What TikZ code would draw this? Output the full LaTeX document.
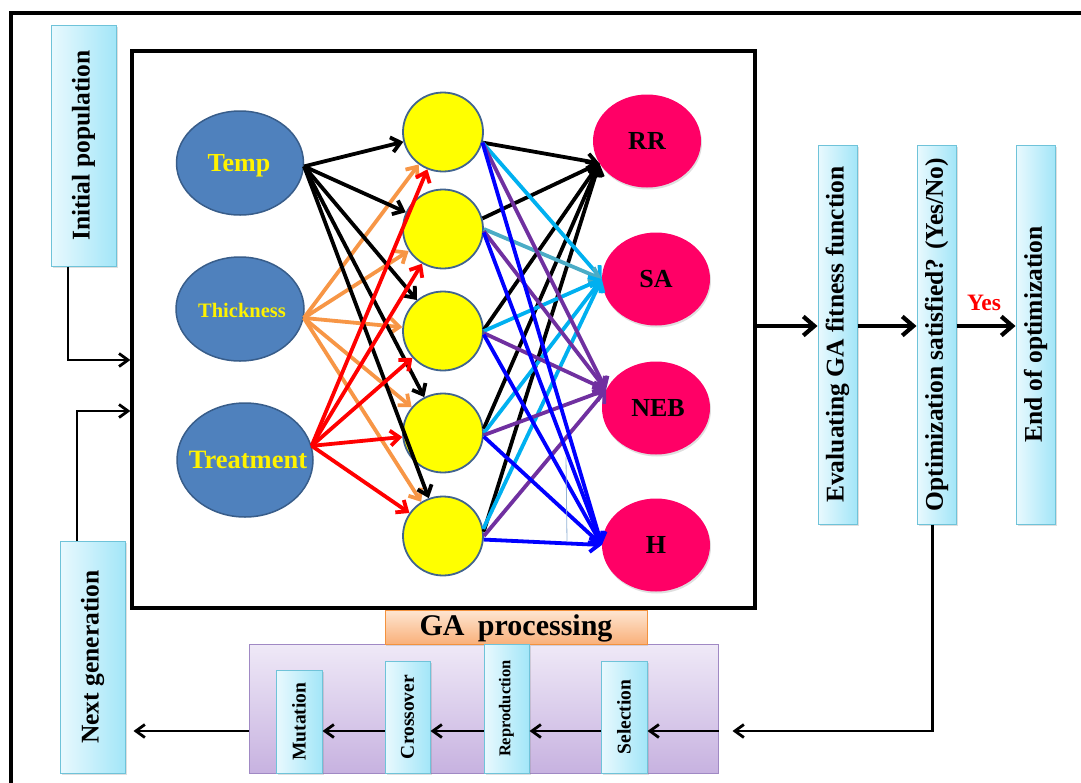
\documentclass[tikz,border=0pt]{standalone}
\usepackage{fontspec}
\setmainfont{Liberation Serif}
\usetikzlibrary{arrows.meta,shapes.geometric,shadows}
\definecolor{cyanL}{HTML}{E9F9FE}
\definecolor{cyanR}{HTML}{A3E6F8}
\definecolor{cyanB}{HTML}{6FC3D9}
\definecolor{inFill}{HTML}{4F81BD}
\definecolor{inBorder}{HTML}{385D8A}
\definecolor{hidFill}{HTML}{FFFF00}
\definecolor{hidBorder}{HTML}{41648F}
\definecolor{outFill}{HTML}{FF0066}
\definecolor{edgeOrange}{HTML}{F79646}
\definecolor{edgeRed}{HTML}{FF0000}
\definecolor{edgeCyan}{HTML}{00B0F0}
\definecolor{edgeTeal}{HTML}{4BACC6}
\definecolor{edgePurple}{HTML}{7030A0}
\definecolor{edgeBlue}{HTML}{0000FF}
\definecolor{gaTop}{HTML}{EFE9F7}
\definecolor{gaBottom}{HTML}{C7B2E0}
\definecolor{gaBorder}{HTML}{A089C4}
\definecolor{orTop}{HTML}{FEE6D2}
\definecolor{orBottom}{HTML}{F9B07A}
\definecolor{orBorder}{HTML}{F3923E}
\definecolor{strayBlue}{HTML}{95B3D7}
\newcommand\fsz[1]{\fontsize{#1}{#1}\selectfont}
\begin{document}
\begin{tikzpicture}[x=1pt,y=-1pt,
  cbox/.style={rectangle, draw=cyanB, line width=1pt, left color=cyanL, right color=cyanR,
    inner sep=0pt, drop shadow={shadow xshift=1.5pt, shadow yshift=-1.5pt, opacity=0.25}},
  vtext/.style={rotate=90, font=\bfseries\fsz{25.5}, inner sep=0pt},
  stext/.style={rotate=90, font=\bfseries\fsz{19.5}, inner sep=0pt},
  inE/.style={ellipse, draw=inBorder, fill=inFill, line width=1.5pt, inner sep=0pt},
  inT/.style={text=yellow, font=\bfseries, inner sep=0pt},
  hidC/.style={ellipse, draw=hidBorder, fill=hidFill, line width=1.8pt, inner sep=0pt,
    minimum width=80, minimum height=79},
  outE/.style={ellipse, fill=outFill, inner sep=0pt, minimum width=108, minimum height=93,
    drop shadow={shadow xshift=1pt, shadow yshift=-2pt, opacity=0.25}},
  outT/.style={font=\bfseries\fsz{26}, inner sep=0pt},
  netA/.style={line width=3.8pt, -{Straight Barb[length=9pt,width=15pt]}},
  flowA/.style={line width=4.2pt, -{Straight Barb[length=11pt,width=19pt]}},
  smallA/.style={line width=2.8pt, -{Straight Barb[length=9pt,width=13pt]}}
]
\useasboundingbox (0,0) rectangle (1081,782);
\clip (0,0) rectangle (1081,782);
\fill[white] (0,0) rectangle (1081,782);
% outer frame
\draw[line width=4.5pt] (11,800) -- (11,13) -- (1100,13);
% network frame
\node[draw, line width=3.2pt, minimum width=623, minimum height=557, inner sep=0pt] (net) at (443.5,329.5) {};

% side boxes
\node[cbox, minimum width=65, minimum height=241] (init) at (83.5,145.5) {};
\node[vtext] (tinit) at (init) {Initial population};
\node[cbox, minimum width=65, minimum height=232] (ng) at (92.5,657) {};
\node[vtext] (tng) at (ng) {Next generation};
\node[cbox, minimum width=39, minimum height=379] (eval) at (837.5,334.5) {};
\node[vtext] (teval) at (eval) {Evaluating GA fitness function};
\node[cbox, minimum width=39, minimum height=379] (opt) at (936.5,334.5) {};
\node[vtext] (topt) at (opt) {Optimization satisfied? (Yes/No)};
\node[cbox, minimum width=39, minimum height=379] (endb) at (1035.5,334.5) {};
\node[vtext] (tend) at (endb) {End of optimization};

% GA processing
\node[rectangle, draw=gaBorder, line width=1pt, top color=gaTop, bottom color=gaBottom,
  minimum width=469, minimum height=129, inner sep=0pt] (GA) at (483.5,708.5) {};
\node[rectangle, draw=orBorder, line width=1pt, top color=orTop, bottom color=orBottom,
  minimum width=262, minimum height=34, inner sep=0pt,
  drop shadow={shadow xshift=1pt, shadow yshift=-1.5pt, opacity=0.25}] (gaproc) at (516,627) {};
\node[font=\bfseries\fsz{30}, inner sep=0pt] (tgaproc) at (516,628) {GA\hspace{0.45em}processing};
\node[cbox, minimum width=46, minimum height=103] (mut) at (299,721.5) {};
\node[stext] (tmut) at (mut) {Mutation};
\node[cbox, minimum width=45, minimum height=112] (cross) at (407.5,717) {};
\node[stext] (tcross) at (cross) {Crossover};
\node[cbox, minimum width=45, minimum height=129] (rep) at (506.5,708.5) {};
\node[stext, font=\bfseries\fsz{16.5}] (trep) at (rep) {Reproduction};
\node[cbox, minimum width=46, minimum height=112] (sel) at (624,717) {};
\node[stext] (tsel) at (sel) {Selection};

% input layer
\node[inE, minimum width=127, minimum height=104] (Temp) at (240,163) {};
\node[inT, font=\bfseries\fsz{26}] (tTemp) at (239,166) {Temp};
\node[inE, minimum width=128, minimum height=104] (Thick) at (240,309) {};
\node[inT, font=\bfseries\fsz{20.5}] (tThick) at (242,310) {Thickness};
\node[inE, minimum width=136, minimum height=114] (Treat) at (245,460) {};
\node[inT, font=\bfseries\fsz{26.5}] (tTreat) at (248,460) {Treatment};

% hidden layer
\node[hidC] (H1) at (443,132) {};
\node[hidC] (H2) at (443,229) {};
\node[hidC] (H3) at (443,331) {};
\node[hidC] (H4) at (443,433) {};
\node[hidC] (H5) at (443,536) {};

% output layer
\node[outE] (RR) at (647,141) {};
\node[outT] (tRR) at (647,141) {RR};
\node[outE] (SA) at (656,279) {};
\node[outT] (tSA) at (656,279) {SA};
\node[outE] (NEB) at (656,408) {};
\node[outT] (tNEB) at (658,408) {NEB};
\node[outE] (H) at (656,545) {};
\node[outT] (tH) at (656,545) {H};

% input -> hidden
\foreach \h in {H1,H2,H3,H4,H5} \draw[netA, edgeOrange] (Thick.-8) -- (\h);
\foreach \h in {H1,H2,H3,H4,H5} \draw[netA, black] (Temp.-3) -- (\h);
\foreach \h in {H1,H2,H3,H4,H5} \draw[netA, edgeRed] (Treat.12) -- (\h);

% hidden -> output
\foreach \h/\s in {H1/-15,H2/15,H3/2,H4/6,H5/6} \draw[netA, black] (\h.\s) -- (RR.205);
\foreach \h/\s/\c in {H1/-15/edgeCyan,H2/0/edgeTeal,H3/0/edgeCyan,H4/0/edgeCyan,H5/10/edgeCyan}
  \draw[netA, \c] (\h.\s) -- (SA.180);
\foreach \h/\s in {H1/-15,H2/-3,H3/-3,H4/-3,H5/0} \draw[netA, edgePurple] (\h.\s) -- (NEB.160);
\foreach \h/\s in {H1/-15,H2/-5,H3/-5,H4/-5,H5/-5} \draw[netA, edgeBlue] (\h.\s) -- (H.180);
\draw[strayBlue, line width=0.8pt] (566,457) -- (567,542);

% main flow
\coordinate (ry) at (0,326);
\draw[flowA] (net.east |- ry) -- (eval.west |- ry);
\draw[flowA] (eval.east |- ry) -- (opt.west |- ry);
\draw[flowA] (opt.east |- ry) -- (endb.west |- ry);
\node[text=red, font=\bfseries\fsz{23.5}, inner sep=0pt] (yes) at (984,303) {Yes};

% feedback loop
\coordinate (ay) at (0,731);
\draw[smallA] ([xshift=-4pt]opt.south) |- ([xshift=14pt]GA.east |- ay);
\draw[smallA] (GA.east |- ay) -- (sel.east |- ay);
\draw[smallA] (sel.west |- ay) -- (rep.east |- ay);
\draw[smallA] (rep.west |- ay) -- (cross.east |- ay);
\draw[smallA] (cross.west |- ay) -- (mut.east |- ay);
\draw[smallA] (GA.west |- ay) -- ([xshift=8pt]ng.east |- ay);

% inputs into the network
\coordinate (ipx) at (68,360);
\coordinate (ngx) at (77,411);
\draw[smallA] (init.south -| ipx) |- (net.west |- ipx);
\draw[smallA] (ng.north -| ngx) |- (net.west |- ngx);
\end{tikzpicture}
\end{document}
